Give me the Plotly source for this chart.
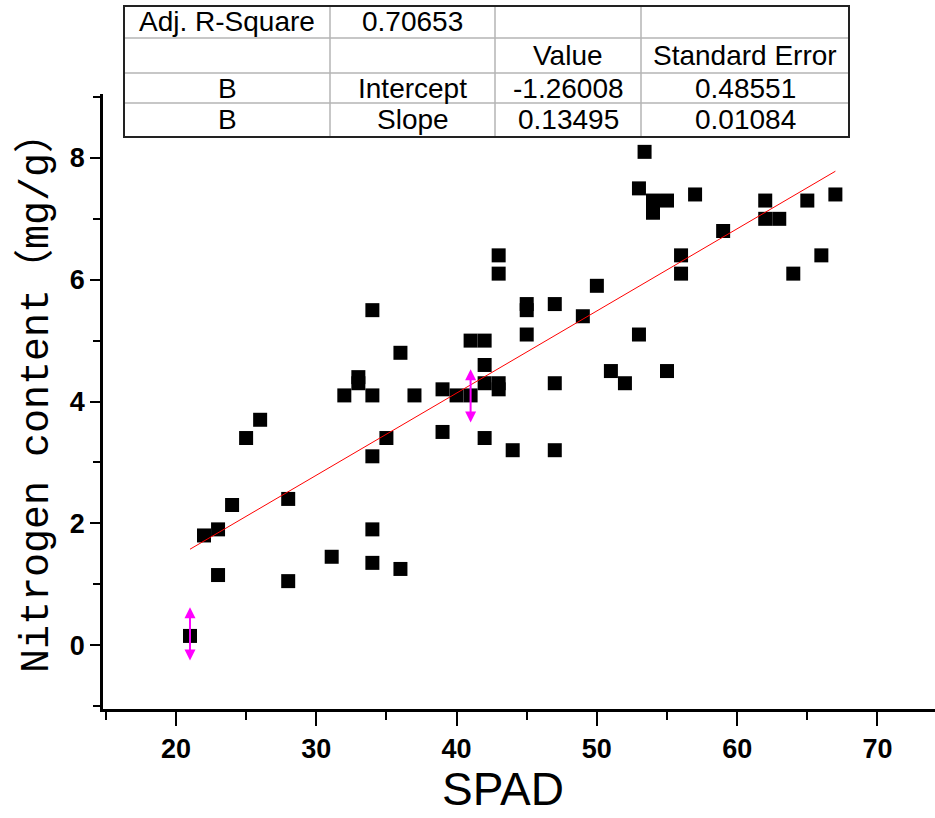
import plotly.graph_objects as go

# ---- data ----
spad = [21, 22, 23, 23, 24, 25, 26, 28, 28, 31.1, 32, 33, 33, 34, 34, 34, 34, 34,
        35, 36, 36, 37, 39, 39, 40, 41, 41, 42, 42, 42, 42, 43, 43, 43, 43, 44,
        45, 45, 45, 47, 47, 47, 49, 50, 51, 52, 53, 53, 53.4, 54, 54, 55, 55,
        56, 56, 57, 59, 62, 62, 63, 64, 65, 66, 67]
nitrogen = [0.15, 1.8, 1.9, 1.15, 2.3, 3.4, 3.7, 2.4, 1.05, 1.45, 4.1, 4.4, 4.3,
            4.1, 5.5, 3.1, 1.9, 1.35, 3.4, 4.8, 1.25, 4.1, 4.2, 3.5, 4.1, 4.1,
            5.0, 5.0, 4.6, 4.3, 3.4, 6.4, 6.1, 4.3, 4.2, 3.2, 5.6, 5.5, 5.1, 5.6,
            4.3, 3.2, 5.4, 5.9, 4.5, 4.3, 7.5, 5.1, 8.1, 7.3, 7.1, 7.3, 4.5, 6.4,
            6.1, 7.4, 6.8, 7.3, 7.0, 7.0, 6.1, 7.3, 6.4, 7.4]

intercept = -1.26008
slope = 0.13495
fit_x = [21, 67]

arrow_x = [21, 41]
arrow_low = [-0.28, 3.63]
arrow_high = [0.62, 4.53]

table_rows = [
    ["Adj. R-Square", "0.70653", "", ""],
    ["", "", "Value", "Standard Error"],
    ["B", "Intercept", "-1.26008", "0.48551"],
    ["B", "Slope", "0.13495", "0.01084"],
]

xticks = [20, 30, 40, 50, 60, 70]
yticks = [0, 2, 4, 6, 8]

# ---- layout geometry (pixels) ----
W, H = 935, 818
L, R, T, B = 103, 0, 94, 109
PW = W - L - R
PH = H - T - B


def px(x):
    return (x - L) / PW


def py(y):
    return (H - B - y) / PH


SANS = "Liberation Sans, Arial"

fig = go.Figure()
fig.add_trace(go.Scatter(
    x=spad, y=nitrogen, mode="markers",
    marker=dict(symbol="square", size=14, color="black", line=dict(width=0)),
    showlegend=False, cliponaxis=False))
fig.add_trace(go.Scatter(
    x=fit_x, y=[intercept + slope * v for v in fit_x], mode="lines",
    line=dict(color="red", width=1), showlegend=False))

annotations = []
for xa, lo, hi in zip(arrow_x, arrow_low, arrow_high):
    annotations.append(dict(
        x=xa, y=hi, ax=xa, ay=lo, xref="x", yref="y", axref="x", ayref="y",
        text="", showarrow=True, arrowhead=2, startarrowhead=2,
        arrowside="end+start", arrowsize=1.1, startarrowsize=1.1,
        arrowwidth=2, arrowcolor="#FF00FF", standoff=0, startstandoff=0))

# table
col_edges = [124, 330, 495, 641, 849]
row_edges = [6, 38, 73, 103, 137]
shapes = []
for cx in col_edges[1:-1]:
    shapes.append(dict(type="line", xref="paper", yref="paper",
                       x0=px(cx), x1=px(cx), y0=py(row_edges[0]), y1=py(row_edges[-1]),
                       line=dict(color="#b4b4b4", width=1.5)))
for ry in row_edges[1:-1]:
    shapes.append(dict(type="line", xref="paper", yref="paper",
                       x0=px(col_edges[0]), x1=px(col_edges[-1]), y0=py(ry), y1=py(ry),
                       line=dict(color="#b4b4b4", width=1.5)))
shapes.append(dict(type="rect", xref="paper", yref="paper",
                   x0=px(col_edges[0]), x1=px(col_edges[-1]),
                   y0=py(row_edges[-1]), y1=py(row_edges[0]),
                   line=dict(color="#222222", width=2), fillcolor="rgba(0,0,0,0)"))

tfont = dict(family=SANS, size=28, color="black")
for ri, row in enumerate(table_rows):
    cy = (row_edges[ri] + row_edges[ri + 1]) / 2
    for ci, txt in enumerate(row):
        if not txt:
            continue
        cx = (col_edges[ci] + col_edges[ci + 1]) / 2
        annotations.append(dict(x=px(cx), y=py(cy), xref="paper", yref="paper",
                                text=txt, showarrow=False, font=tfont,
                                xanchor="center", yanchor="middle"))

annotations.append(dict(x=px(503), y=py(817), xref="paper", yref="paper",
                        text="SPAD", showarrow=False,
                        font=dict(family=SANS, size=46, color="black"),
                        xanchor="center", yanchor="bottom"))
annotations.append(dict(x=px(36), y=py(393), xref="paper", yref="paper",
                        text="Nitrogen content（mg/g）", showarrow=False, textangle=-90,
                        font=dict(family="Liberation Mono, Noto Sans CJK SC", size=40, color="black"),
                        xanchor="center", yanchor="middle"))

axis_common = dict(showline=True, linecolor="black", linewidth=2.5, ticks="outside",
                   tickcolor="black", tickwidth=2, showgrid=False, zeroline=False,
                   tickfont=dict(family=SANS, size=27, color="black", weight="bold"))

fig.update_layout(
    width=W, height=H, margin=dict(l=L, r=R, t=T, b=B, pad=0),
    paper_bgcolor="white", plot_bgcolor="white",
    xaxis=dict(range=[14.8, 74.1], tickvals=xticks, ticklen=14,
               minor=dict(ticks="outside", dtick=5, tick0=0, ticklen=8, tickwidth=2, tickcolor="black"),
               **axis_common),
    yaxis=dict(range=[-1.05, 9.05], tickvals=yticks, ticklen=10,
               minor=dict(ticks="outside", dtick=1, tick0=0, ticklen=7, tickwidth=2, tickcolor="black"),
               **axis_common),
    shapes=shapes, annotations=annotations,
)

fig.write_html("out.html")
